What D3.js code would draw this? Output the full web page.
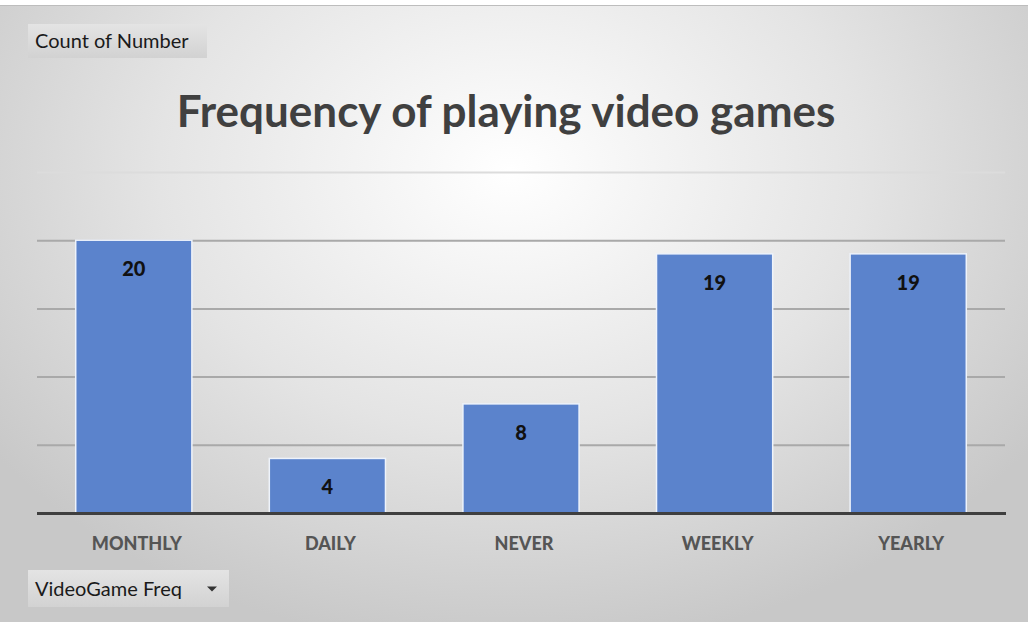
<!DOCTYPE html>
<html><head><meta charset="utf-8">
<script src="https://cdn.jsdelivr.net/npm/d3@7"></script>
<style>html,body{margin:0;padding:0;background:#fff;}svg{display:block;}</style>
</head><body>
<svg id="c" width="1028" height="622"></svg>
<script>
const categories = ["MONTHLY","DAILY","NEVER","WEEKLY","YEARLY"];
const values = [20, 4, 8, 19, 19];
const yTicks = [5, 10, 15, 20, 25];
const titleText = "Frequency of playing video games";
const fieldButton = "Count of Number";
const axisButton = "VideoGame Freq";

const W = 1028, H = 622;
const svg = d3.select("#c");
const defs = svg.append("defs");
const rg = defs.append("radialGradient").attr("id","bg")
  .attr("gradientUnits","userSpaceOnUse").attr("cx",510).attr("cy",170).attr("r",640)
  .attr("gradientTransform","translate(510,170) scale(1,0.75) translate(-510,-170)");
rg.append("stop").attr("offset","0").attr("stop-color","#ffffff");
rg.append("stop").attr("offset","0.55").attr("stop-color","#e4e4e4");
rg.append("stop").attr("offset","1").attr("stop-color","#c8c8c8");

const bg2 = defs.append("linearGradient").attr("id","btn").attr("x1",0).attr("y1",0).attr("x2",0).attr("y2",1);
bg2.append("stop").attr("offset","0").attr("stop-color","#e4e4e4");
bg2.append("stop").attr("offset","1").attr("stop-color","#d2d2d2");

svg.append("rect").attr("width",W).attr("height",H).attr("fill","#ffffff");
svg.append("rect").attr("x",0).attr("y",5).attr("width",W).attr("height",H-5).attr("fill","url(#bg)");
svg.append("line").attr("x1",0).attr("x2",W).attr("y1",5.5).attr("y2",5.5).attr("stroke","#bdbdbd").attr("stroke-width",1);

const font = "Lato, 'Open Sans', sans-serif";

const x = d3.scaleBand().domain(categories).range([37, 1005]).paddingInner(0.4).paddingOuter(0.2);
const y = d3.scaleLinear().domain([0, 25]).range([513, 172]);

// gridlines
svg.append("g").selectAll("line").data(yTicks).join("line")
  .attr("x1",37).attr("x2",1005)
  .attr("y1",d=>y(d)+0.5).attr("y2",d=>y(d)+0.5)
  .attr("stroke",(d,i)=> i===yTicks.length-1 ? "#dcdcdc" : "#a9a9a9")
  .attr("stroke-width",2);

// bars
svg.append("g").selectAll("rect").data(values).join("rect")
  .attr("x",(d,i)=>x(categories[i]))
  .attr("y",d=>y(d))
  .attr("width",x.bandwidth())
  .attr("height",d=>y(0)-y(d))
  .attr("fill","#5b83cc")
  .attr("stroke","#eef3fb").attr("stroke-width",1.5);

// value labels
svg.append("g").selectAll("text").data(values).join("text")
  .attr("x",(d,i)=>x(categories[i])+x.bandwidth()/2)
  .attr("y",d=>y(d)+36)
  .attr("text-anchor","middle")
  .attr("font-family",font).attr("font-weight",900).attr("font-size",20)
  .attr("fill","#111")
  .text(d=>d);

// baseline axis
const xAxis = d3.axisBottom(x).tickSize(0).tickPadding(0);
const gx = svg.append("g").attr("transform",`translate(0,${y(0)})`).call(xAxis);
gx.select(".domain").attr("stroke","#3f3f3f").attr("stroke-width",3).attr("d","M37,0.5H1006");
gx.selectAll("text").attr("font-family",font).attr("font-weight",900).attr("font-size",18)
  .attr("fill","#555").attr("dy",0).attr("y",37).attr("dx",3);

// title
svg.append("text").attr("x",506).attr("y",127).attr("text-anchor","middle")
  .attr("font-family",font).attr("font-weight","bold").attr("font-size",44)
  .attr("fill","#404040").text(titleText);

// field buttons
function button(x0,y0,w,h,label,arrow){
  const g = svg.append("g");
  g.append("rect").attr("x",x0).attr("y",y0).attr("width",w).attr("height",h).attr("fill","url(#btn)");
  g.append("text").attr("x",x0+7).attr("y",y0+h/2+7).attr("font-family",font).attr("font-size",20)
    .attr("fill","#1a1a1a").text(label);
  if(arrow){
    const ax = x0+w-17, ay = y0+h/2;
    g.append("path").attr("d",`M${ax-5},${ay-2}L${ax+5},${ay-2}L${ax},${ay+3}Z`).attr("fill","#333");
  }
}
button(28,24,179,34,fieldButton,false);
button(28,570,201,37,axisButton,true);
</script>
</body></html>
